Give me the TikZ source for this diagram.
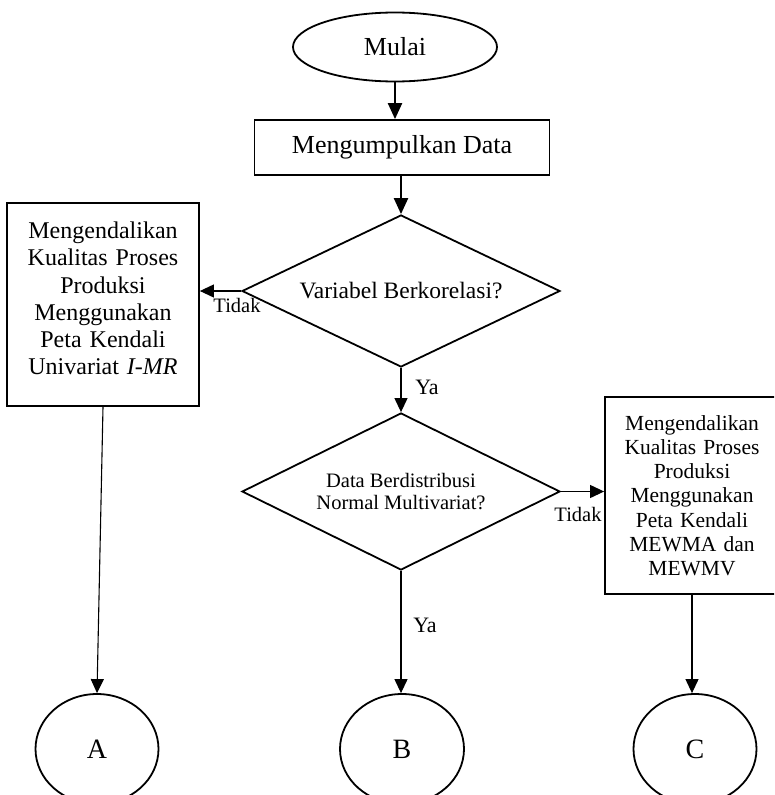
\documentclass[tikz,border=0pt]{standalone}
\usepackage{fontspec}
\setmainfont{Liberation Serif}
\usetikzlibrary{shapes.geometric,arrows.meta}
\begin{document}
\begin{tikzpicture}[x=1pt,y=-1pt,
  shapeline/.style={draw=black,line width=1.8pt},
  term/.style={shapeline,ellipse,inner sep=0pt},
  procbox/.style={shapeline,rectangle,inner sep=0pt,align=center},
  decision/.style={shapeline,diamond,inner sep=0pt,align=center},
  conn/.style={line width=1.1pt,-{Triangle[length=14pt,width=13pt]}},
  thickconn/.style={line width=2.2pt,-{Triangle[length=16pt,width=14pt]}},
  lbl/.style={inner sep=0pt,font=\fontsize{20.5}{24}\selectfont}]
\useasboundingbox (0,0) rectangle (774,795);
\clip (0,0) rectangle (774,795);

\node[term,minimum width=204pt,minimum height=69pt,font=\fontsize{26}{30}\selectfont] (mulai) at (395,47) {Mulai};
\node[procbox,minimum width=295pt,minimum height=55pt,font=\fontsize{26}{30}\selectfont] (collect) at (402,147.5) {Mengumpulkan Data};
\node[decision,aspect=2.09,minimum width=318pt,minimum height=152pt,font=\fontsize{23.5}{27}\selectfont] (d1) at (401,291) {Variabel Berkorelasi?};
\node[procbox,minimum width=192pt,minimum height=203pt] (boxA) at (103,304.5) {};
\node[inner sep=0pt,align=center,text width=190pt,font=\fontsize{24}{27.3}\selectfont] (boxAtext) at (103,298.5) {Mengendalikan\\Kualitas Proses\\Produksi\\Menggunakan\\Peta Kendali\\Univariat \textit{I-MR}};
\node[decision,aspect=2.03,minimum width=318pt,minimum height=157pt,font=\fontsize{20.5}{21.5}\selectfont] (d2) at (401,491.5) {Data Berdistribusi\\Normal Multivariat?};
\node[procbox,minimum width=174pt,minimum height=197pt,text width=172pt,font=\fontsize{21.5}{24.2}\selectfont] (boxC) at (692,495.5) {Mengendalikan\\Kualitas Proses\\Produksi\\Menggunakan\\Peta Kendali\\MEWMA dan\\MEWMV};
\node[term,minimum width=123pt,minimum height=110pt,font=\fontsize{28}{32}\selectfont] (cA) at (97,749) {A};
\node[term,minimum width=124pt,minimum height=110pt,font=\fontsize{28}{32}\selectfont] (cB) at (402,749) {B};
\node[term,minimum width=123pt,minimum height=110pt,font=\fontsize{28}{32}\selectfont] (cC) at (695,749) {C};

\node[lbl] (tidak1) at (237,305) {Tidak};
\node[lbl,font=\fontsize{22}{26}\selectfont] (ya1) at (427,387) {Ya};
\node[lbl,font=\fontsize{22}{26}\selectfont] (ya2) at (425,625) {Ya};
\node[lbl] (tidak2) at (578,514) {Tidak};

\draw[thickconn] (mulai.south) -- (mulai.south |- collect.north);
\draw[thickconn] (d1.north |- collect.south) -- (d1.north);
\draw[conn] (d1.west) -- (d1.west -| boxA.east);
\draw[conn] (d1.south) -- (d2.north);
\draw[conn] (d2.east) -- (d2.east -| boxC.west);
\draw[conn] (boxA.south) -- (cA.north);
\draw[conn] (d2.south) -- (d2.south |- cB.north);
\draw[conn] (boxC.south) -- (boxC.south |- cC.north);
\end{tikzpicture}
\end{document}
